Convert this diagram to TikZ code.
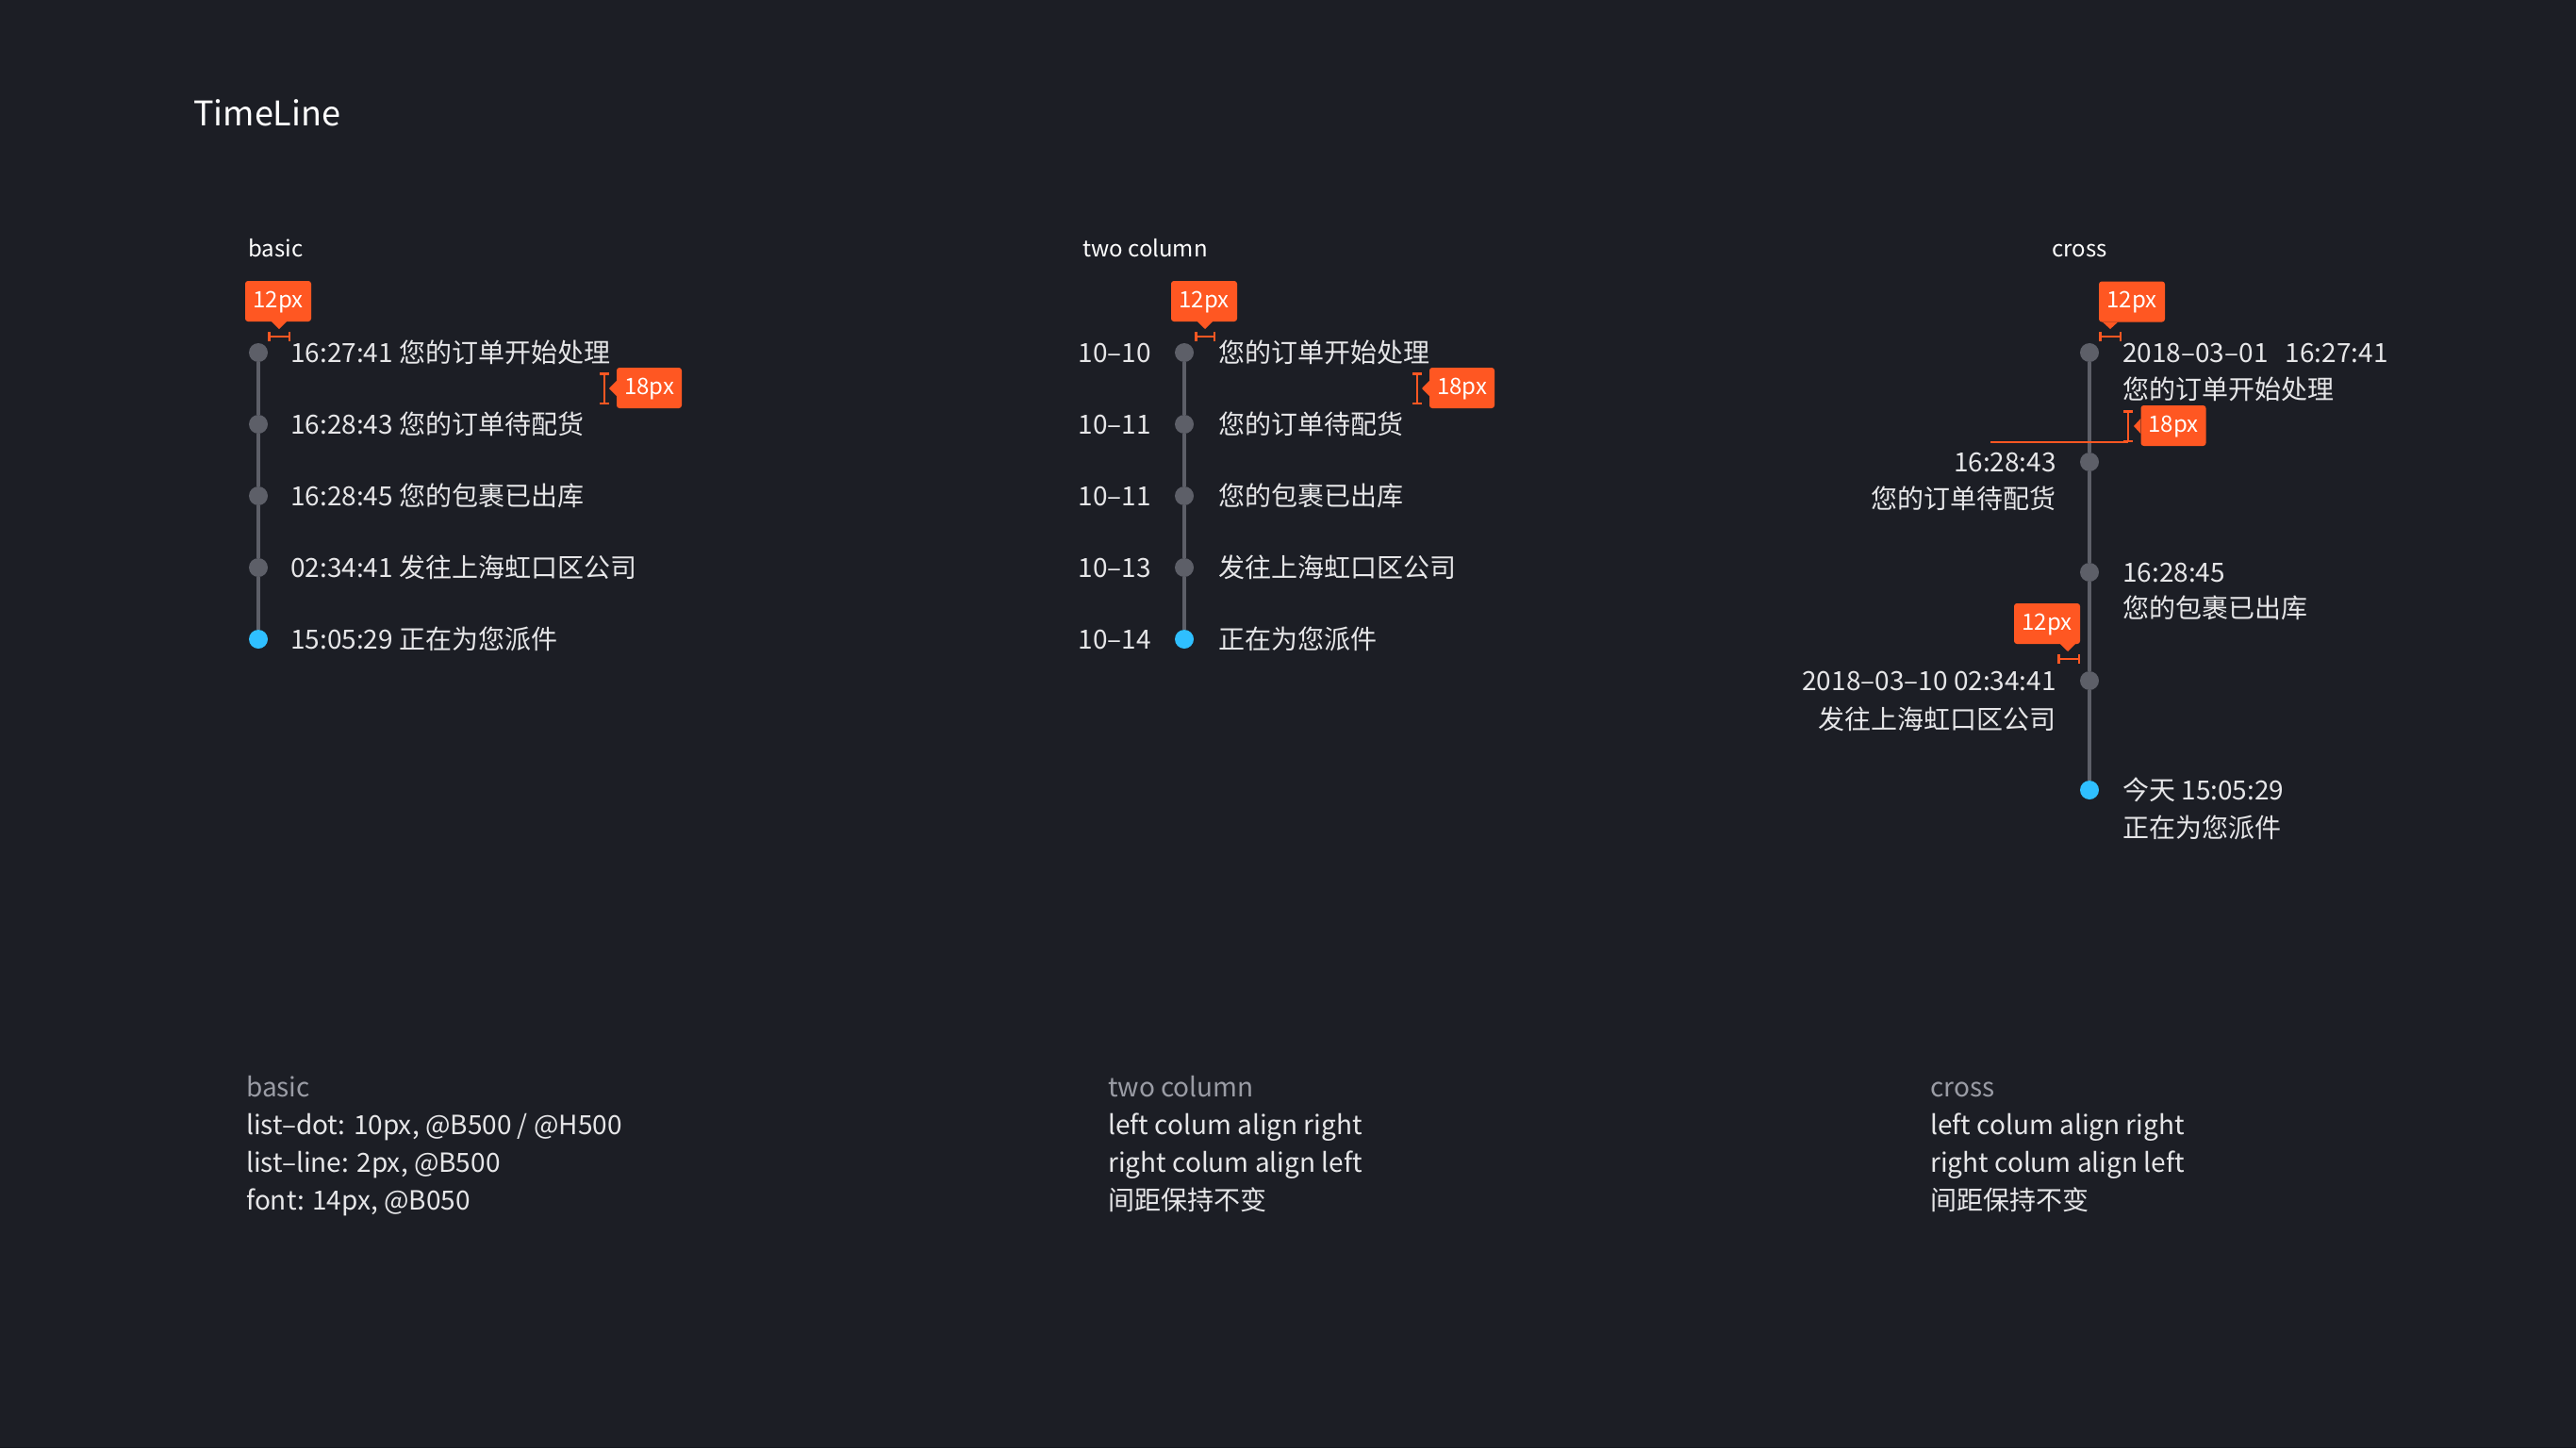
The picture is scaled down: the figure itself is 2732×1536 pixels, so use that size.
\documentclass[tikz,border=0pt]{standalone}
\usepackage{fontspec}
\setmainfont{Noto Sans CJK SC}
\usetikzlibrary{arrows.meta,shapes.geometric}
\definecolor{bg}{HTML}{1C1E25}
\definecolor{tlgray}{HTML}{5D5F68}
\definecolor{tlblue}{HTML}{2FBFFF}
\definecolor{tlorange}{HTML}{FF5722}
\definecolor{txt}{HTML}{E6E6E8}
\definecolor{subtxt}{HTML}{9A9CA5}
\begin{document}
\begin{tikzpicture}[x=1pt,y=-1pt,
  dotg/.style={circle,fill=tlgray,minimum size=20pt,inner sep=0pt},
  dotb/.style={circle,fill=tlblue,minimum size=20pt,inner sep=0pt},
  tl/.style={draw=tlgray,line width=4pt},
  itemr/.style={text=txt,font=\fontsize{28}{34}\selectfont,inner sep=0pt,anchor=base west},
  iteml/.style={text=txt,font=\fontsize{28}{34}\selectfont,inner sep=0pt,anchor=base east},
  tipbox/.style={fill=tlorange,rounded corners=3pt,text=white,font=\fontsize{24}{28}\selectfont,inner sep=0pt,minimum width=70pt,minimum height=43pt,text height=17pt,text depth=4pt},
  bracket/.style={draw=tlorange,line width=2.5pt,{Bar[width=10pt]}-{Bar[width=10pt]}},
  guide/.style={draw=tlorange,line width=2.5pt},
  ptr/.style={fill=tlorange},
  head/.style={text=white,font=\fontsize{24}{28}\selectfont,anchor=base west,inner sep=0pt},
  note/.style={text=txt,font=\fontsize{28}{34}\selectfont,anchor=base west,inner sep=0pt},
  notehead/.style={note,text=subtxt}]

\useasboundingbox (0,0) rectangle (2732,1536);
\fill[bg] (0,0) rectangle (2732,1536);

% title
\node[text=white,font=\fontsize{36}{40}\selectfont,anchor=base west,inner sep=0pt] (title) at (205,133) {TimeLine};

% section heads
\node[head] (hbasic) at (263,272) {basic};
\node[head] (htwo) at (1148,272) {two column};
\node[head] (hcross) at (2176,272) {cross};

% ---------- basic ----------
\node[dotg] (b1) at (274,374) {};
\node[dotg] (b2) at (274,450) {};
\node[dotg] (b3) at (274,526) {};
\node[dotg] (b4) at (274,602) {};
\node[dotb] (b5) at (274,678) {};
\draw[tl] (b1) -- (b2);
\draw[tl] (b2) -- (b3);
\draw[tl] (b3) -- (b4);
\draw[tl] (b4) -- (b5);
\node[itemr] (bt1) at (308,384) {16:27:41 您的订单开始处理};
\node[itemr] (bt2) at (308,460) {16:28:43 您的订单待配货};
\node[itemr] (bt3) at (308,536) {16:28:45 您的包裹已出库};
\node[itemr] (bt4) at (308,612) {02:34:41 发往上海虹口区公司};
\node[itemr] (bt5) at (308,688) {15:05:29 正在为您派件};

% basic tooltips
\node[tipbox] (bk1) at (295,319.5) {12px};
\coordinate (bk1p) at (296,349);
\fill[ptr] ([xshift=-8pt]bk1p |- bk1.south) -- (bk1p) -- ([xshift=8pt]bk1p |- bk1.south) -- cycle;
\coordinate (bk1a) at (284,357);
\coordinate (bk1b) at (308,357);
\draw[bracket] (bk1a) -- (bk1b);

\node[tipbox,minimum width=69pt] (bk2) at (688.5,411.5) {18px};
\coordinate (bk2p) at (646,412);
\fill[ptr] ([yshift=-8pt]bk2.west |- bk2p) -- (bk2p) -- ([yshift=8pt]bk2.west |- bk2p) -- cycle;
\coordinate (bk2a) at (641,395);
\coordinate (bk2b) at (641,429);
\draw[bracket] (bk2a) -- (bk2b);

% ---------- two column ----------
\node[dotg] (t1) at (1256,374) {};
\node[dotg] (t2) at (1256,450) {};
\node[dotg] (t3) at (1256,526) {};
\node[dotg] (t4) at (1256,602) {};
\node[dotb] (t5) at (1256,678) {};
\draw[tl] (t1) -- (t2);
\draw[tl] (t2) -- (t3);
\draw[tl] (t3) -- (t4);
\draw[tl] (t4) -- (t5);
\node[iteml] (tl1) at (1221,384) {10–10};
\node[iteml] (tl2) at (1221,460) {10–11};
\node[iteml] (tl3) at (1221,536) {10–11};
\node[iteml] (tl4) at (1221,612) {10–13};
\node[iteml] (tl5) at (1221,688) {10–14};
\node[itemr] (tr1) at (1292,384) {您的订单开始处理};
\node[itemr] (tr2) at (1292,460) {您的订单待配货};
\node[itemr] (tr3) at (1292,536) {您的包裹已出库};
\node[itemr] (tr4) at (1292,612) {发往上海虹口区公司};
\node[itemr] (tr5) at (1292,688) {正在为您派件};

\node[tipbox] (tk1) at (1277,319.5) {12px};
\coordinate (tk1p) at (1278,349);
\fill[ptr] ([xshift=-8pt]tk1p |- tk1.south) -- (tk1p) -- ([xshift=8pt]tk1p |- tk1.south) -- cycle;
\coordinate (tk1a) at (1267,357);
\coordinate (tk1b) at (1289,357);
\draw[bracket] (tk1a) -- (tk1b);

\node[tipbox,minimum width=69pt] (tk2) at (1550.5,411.5) {18px};
\coordinate (tk2p) at (1508,412);
\fill[ptr] ([yshift=-8pt]tk2.west |- tk2p) -- (tk2p) -- ([yshift=8pt]tk2.west |- tk2p) -- cycle;
\coordinate (tk2a) at (1503,395);
\coordinate (tk2b) at (1503,429);
\draw[bracket] (tk2a) -- (tk2b);

% ---------- cross ----------
\node[dotg] (c1) at (2216,374) {};
\node[dotg] (c2) at (2216,490) {};
\node[dotg] (c3) at (2216,607) {};
\node[dotg] (c4) at (2216,722) {};
\node[dotb] (c5) at (2216,838) {};
\draw[tl] (c1) -- (c2);
\draw[tl] (c2) -- (c3);
\draw[tl] (c3) -- (c4);
\draw[tl] (c4) -- (c5);

\node[itemr] (cr1a) at (2251,384) {2018–03–01\hspace{12pt} 16:27:41};
\node[itemr] (cr1b) at (2251,423) {您的订单开始处理};
\node[iteml] (cl2a) at (2181,500) {16:28:43};
\node[iteml] (cl2b) at (2181,539) {您的订单待配货};
\node[itemr] (cr3a) at (2251,617) {16:28:45};
\node[itemr] (cr3b) at (2251,655) {您的包裹已出库};
\node[iteml] (cl4a) at (2181,732) {2018–03–10 02:34:41};
\node[iteml] (cl4b) at (2181,773) {发往上海虹口区公司};
\node[itemr] (cr5a) at (2251,848) {今天 15:05:29};
\node[itemr] (cr5b) at (2251,888) {正在为您派件};

\node[tipbox] (ck1) at (2261,320) {12px};
\coordinate (ck1p) at (2238,349);
\fill[ptr] ([xshift=-8pt]ck1p |- ck1.south) -- (ck1p) -- ([xshift=8pt]ck1p |- ck1.south) -- cycle;
\coordinate (ck1a) at (2226,357);
\coordinate (ck1b) at (2250,357);
\draw[bracket] (ck1a) -- (ck1b);

\node[tipbox,minimum width=69pt] (ck2) at (2305,451.5) {18px};
\coordinate (ck2p) at (2263,452);
\fill[ptr] ([yshift=-8pt]ck2.west |- ck2p) -- (ck2p) -- ([yshift=8pt]ck2.west |- ck2p) -- cycle;
\coordinate (ck2a) at (2257,435);
\coordinate (ck2b) at (2257,469);
\draw[bracket] (ck2a) -- (ck2b);
\coordinate (ckg) at (2111,469);
\draw[guide] (ckg) -- (ck2b);

\node[tipbox] (ck3) at (2171,661.5) {12px};
\coordinate (ck3p) at (2193,691);
\fill[ptr] ([xshift=-8pt]ck3p |- ck3.south) -- (ck3p) -- ([xshift=8pt]ck3p |- ck3.south) -- cycle;
\coordinate (ck3a) at (2182,699);
\coordinate (ck3b) at (2206,699);
\draw[bracket] (ck3a) -- (ck3b);

% ---------- notes ----------
\node[notehead] (n1h) at (261,1163) {basic};
\node[note] (n1a) at (261,1203) {list–dot: 10px, @B500 / @H500};
\node[note] (n1b) at (261,1243) {list–line: 2px, @B500};
\node[note] (n1c) at (261,1283) {font: 14px, @B050};

\node[notehead] (n2h) at (1175,1163) {two column};
\node[note] (n2a) at (1175,1203) {left colum align right};
\node[note] (n2b) at (1175,1243) {right colum align left};
\node[note] (n2c) at (1175,1283) {间距保持不变};

\node[notehead] (n3h) at (2047,1163) {cross};
\node[note] (n3a) at (2047,1203) {left colum align right};
\node[note] (n3b) at (2047,1243) {right colum align left};
\node[note] (n3c) at (2047,1283) {间距保持不变};
\end{tikzpicture}
\end{document}
